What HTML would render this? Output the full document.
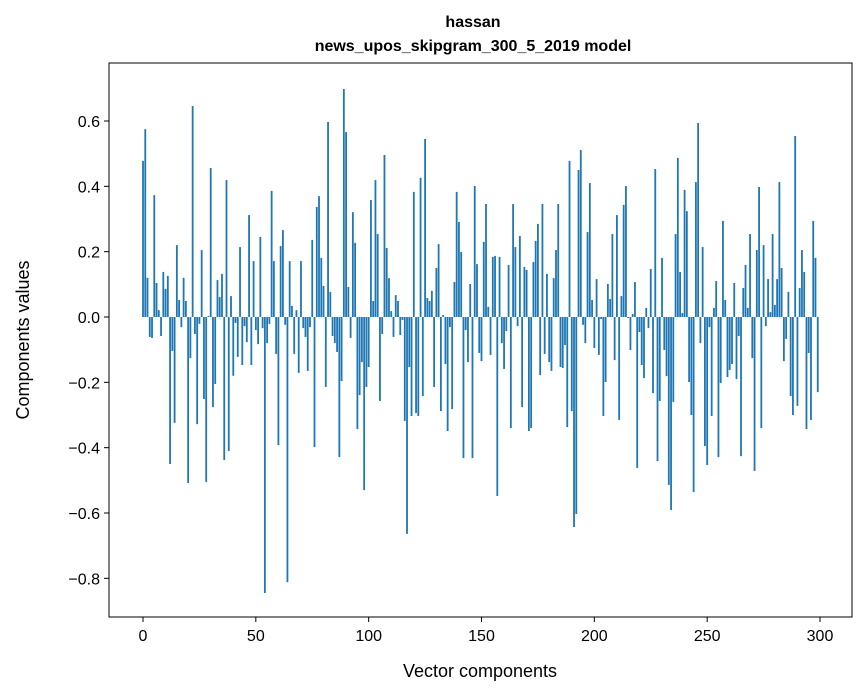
<!DOCTYPE html>
<html><head><meta charset="utf-8">
<style>
html,body{margin:0;padding:0;background:#fff;}
svg{display:block;font-family:"Liberation Sans","DejaVu Sans",sans-serif;}
</style></head>
<body>
<svg id="chart" width="867" height="696" viewBox="0 0 867 696" xmlns="http://www.w3.org/2000/svg">
<text x="473" y="27" text-anchor="middle" font-size="16" font-weight="bold">hassan</text>
<text x="473" y="51" text-anchor="middle" font-size="16" font-weight="bold">news_upos_skipgram_300_5_2019 model</text>
<g id="bars"></g>
<g id="axes"></g>
<text x="480" y="677" text-anchor="middle" font-size="18">Vector components</text>
<text transform="translate(29,340) rotate(-90)" text-anchor="middle" font-size="18">Components values</text>
</svg>
<script>
const values = [
0.478,0.575,0.12,-0.061,-0.064,0.373,0.104,0.021,-0.058,0.138,
0.086,0.126,-0.45,-0.104,-0.324,0.22,0.052,-0.031,0.12,0.049,
-0.508,-0.126,0.646,-0.052,-0.328,-0.021,0.205,-0.251,-0.505,0.003,
0.456,-0.276,-0.205,0.113,0.061,0.132,-0.438,0.419,-0.41,0.064,
-0.18,-0.018,-0.122,0.214,-0.147,-0.028,-0.077,0.312,-0.147,0.171,
-0.04,-0.083,0.245,-0.034,-0.845,-0.08,-0.021,0.386,0.171,-0.113,
-0.392,0.217,0.266,-0.024,-0.812,0.171,0.034,-0.113,0.021,-0.171,
0.171,-0.034,-0.061,-0.165,-0.031,0.236,-0.398,0.337,0.37,0.181,
0.095,-0.214,0.597,0.077,-0.058,-0.08,-0.107,-0.429,-0.196,0.698,
0.566,0.092,-0.064,0.321,0.227,-0.343,-0.239,-0.138,-0.53,-0.214,
-0.153,0.358,0.049,0.419,0.254,-0.257,-0.052,0.496,0.211,0.119,
0.018,-0.061,0.067,0.049,-0.055,-0.009,-0.318,-0.664,-0.153,-0.303,
0.383,-0.294,-0.303,0.426,-0.242,0.545,0.058,0.049,0.08,-0.214,
0.15,0.223,-0.288,0.006,-0.144,-0.349,-0.031,-0.282,0.107,0.383,
0.291,0.199,-0.432,-0.04,-0.138,0.101,-0.432,0.401,0.162,-0.11,
-0.135,0.23,0.346,0.031,-0.116,0.184,0.187,-0.548,0.184,-0.08,
-0.159,-0.043,0.159,-0.34,0.346,0.214,-0.028,0.248,-0.276,0.153,
0.144,-0.349,-0.34,0.168,0.233,0.285,-0.178,0.346,-0.113,0.132,
-0.138,-0.165,0.119,0.205,0.346,-0.153,-0.156,-0.086,-0.337,0.478,
-0.288,-0.643,-0.603,0.45,0.511,-0.024,-0.08,0.26,0.41,0.052,
-0.095,0.116,-0.116,-0.006,-0.303,-0.199,0.101,0.055,0.254,-0.132,
0.312,-0.315,0.064,0.343,0.401,-0.003,-0.101,0.009,0.107,-0.462,
-0.046,-0.147,-0.187,0.028,-0.034,0.147,-0.233,0.453,-0.441,-0.257,
0.181,-0.101,-0.181,-0.514,-0.591,-0.26,0.254,0.487,0.138,0.012,
0.389,0.324,-0.199,-0.3,-0.536,0.413,0.594,-0.08,0.214,-0.395,
-0.453,-0.031,-0.303,0.028,0.11,-0.429,-0.202,0.294,0.052,-0.184,
-0.162,-0.144,0.104,-0.19,-0.058,-0.426,0.089,0.159,0.028,0.254,
-0.126,-0.471,0.205,0.398,-0.34,0.22,-0.028,0.116,0.015,0.254,
0.037,0.116,0.413,0.15,-0.135,-0.067,0.077,-0.242,-0.3,0.554,
-0.272,0.089,0.205,0.138,-0.343,-0.11,-0.315,0.294,0.181,-0.23
];
const xTicks = [0,50,100,150,200,250,300];
const yTicks = [-0.8,-0.6,-0.4,-0.2,0.0,0.2,0.4,0.6];
const yTickLabels = ["\u22120.8","\u22120.6","\u22120.4","\u22120.2","0.0","0.2","0.4","0.6"];

const NS = "http://www.w3.org/2000/svg";
const plot = {left:109, right:852, top:63, bottom:617};
function xScale(v){ return 143 + (820-143)*v/300; }
function yScale(v){ return 317 - (317-121)*v/0.6; }
const bw = (xScale(1)-xScale(0))*0.8;

const barsG = document.getElementById('bars');
values.forEach((v,i)=>{
  const r = document.createElementNS(NS,'rect');
  const y0 = yScale(0), y1 = yScale(v);
  r.setAttribute('x', xScale(i)-bw/2);
  r.setAttribute('y', Math.min(y0,y1));
  r.setAttribute('width', bw);
  r.setAttribute('height', Math.abs(y1-y0));
  r.setAttribute('fill', '#1f77b4');
  
  
  barsG.appendChild(r);
});

const axesG = document.getElementById('axes');
const frame = document.createElementNS(NS,'rect');
frame.setAttribute('x', plot.left);
frame.setAttribute('y', plot.top);
frame.setAttribute('width', plot.right-plot.left);
frame.setAttribute('height', plot.bottom-plot.top);
frame.setAttribute('fill','none');
frame.setAttribute('stroke','#000');
frame.setAttribute('stroke-width','1');


axesG.appendChild(frame);

xTicks.forEach(t=>{
  const x = xScale(t);
  const l = document.createElementNS(NS,'line');
  l.setAttribute('x1',x); l.setAttribute('x2',x);
  l.setAttribute('y1',plot.bottom); l.setAttribute('y2',plot.bottom+5);
  l.setAttribute('stroke','#000');
  
  
  axesG.appendChild(l);
  const tx = document.createElementNS(NS,'text');
  tx.setAttribute('x',x); tx.setAttribute('y',plot.bottom+24);
  tx.setAttribute('text-anchor','middle'); tx.setAttribute('font-size','16');
  tx.textContent = String(t);
  
  
  axesG.appendChild(tx);
});
yTicks.forEach((t,i)=>{
  const y = yScale(t);
  const l = document.createElementNS(NS,'line');
  l.setAttribute('x1',plot.left-5); l.setAttribute('x2',plot.left);
  l.setAttribute('y1',y); l.setAttribute('y2',y);
  l.setAttribute('stroke','#000');
  
  
  axesG.appendChild(l);
  const tx = document.createElementNS(NS,'text');
  tx.setAttribute('x',plot.left-9); tx.setAttribute('y',y+6);
  tx.setAttribute('text-anchor','end'); tx.setAttribute('font-size','16');
  tx.textContent = yTickLabels[i];
  
  
  axesG.appendChild(tx);
});
</script>
</body></html>
